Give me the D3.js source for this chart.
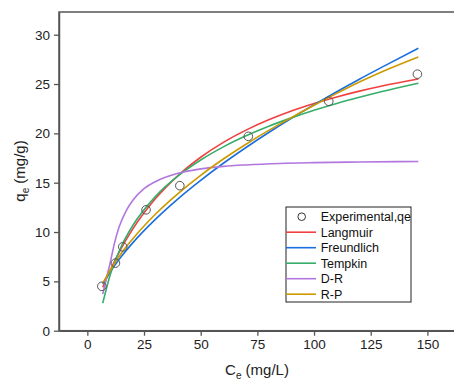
<!DOCTYPE html>
<html>
<head>
<meta charset="utf-8">
<script src="https://cdn.jsdelivr.net/npm/d3@7"></script>
<style>
  body { margin: 0; background: #fff; }
  svg { display: block; font-family: "Liberation Sans", Arial, sans-serif; }
</style>
</head>
<body>
<div id="chart"></div>
<script>
// experimental points
const expCe = [6.4, 12.4, 15.6, 25.9, 40.8, 71.0, 106.5, 145.6];
const expQe = [4.5, 6.85, 8.5, 12.25, 14.7, 19.7, 23.25, 26.0];

// fitted model curves
const fitCe = [6.8, 10, 15, 20, 30, 40, 50, 60, 70, 80, 90, 100, 110, 120, 130, 146];
const langmuir   = [4.39, 6.08, 8.36, 10.29, 13.37, 15.72, 17.58, 19.09, 20.33, 21.37, 22.26, 23.02, 23.69, 24.28, 24.80, 25.51];
const freundlich = [4.72, 5.92, 7.51, 8.90, 11.29, 13.37, 15.24, 16.97, 18.57, 20.09, 21.53, 22.90, 24.22, 25.49, 26.71, 28.62];
const tempkin    = [2.80, 5.60, 8.55, 10.64, 13.59, 15.68, 17.30, 18.63, 19.75, 20.72, 21.57, 22.34, 23.03, 23.66, 24.25, 25.09];
const rp         = [4.80, 6.10, 7.85, 9.30, 11.80, 13.90, 15.75, 17.40, 18.90, 20.30, 21.60, 22.85, 24.05, 25.20, 26.25, 27.75];

const drCe = [6.8, 7.5, 8.5, 10, 12, 14, 17, 20, 25, 30, 40, 50, 60, 70, 85, 100, 120, 146];
const dr   = [3.7, 4.4, 5.4, 6.8, 8.9, 10.5, 12.1, 13.2, 14.4, 15.1, 15.95, 16.4, 16.65, 16.8, 16.95, 17.03, 17.1, 17.15];

const xTicks = [0, 25, 50, 75, 100, 125, 150];
const yTicks = [0, 5, 10, 15, 20, 25, 30];

const series = [
  { name: 'Langmuir', color: '#F14040', x: fitCe, y: langmuir },
  { name: 'Freundlich', color: '#1A6FDF', x: fitCe, y: freundlich },
  { name: 'Tempkin', color: '#37AD6B', x: fitCe, y: tempkin },
  { name: 'D-R', color: '#B177DE', x: drCe, y: dr },
  { name: 'R-P', color: '#CC9900', x: fitCe, y: rp }
];

const width = 454, height = 381;
const m = { left: 59, top: 12, bottom: 330.7, right: 461.4 };

const svg = d3.select('#chart').append('svg')
  .attr('width', width)
  .attr('height', height);

const x = d3.scaleLinear().domain([-12.5, 165]).range([m.left, m.right]);
const y = d3.scaleLinear().domain([0, 32.3]).range([m.bottom, m.top]);

// curves
const line = d3.line()
  .x(d => x(d[0]))
  .y(d => y(d[1]))
  .curve(d3.curveMonotoneX);

svg.append('g').selectAll('path')
  .data(series)
  .enter().append('path')
  .attr('d', s => line(s.x.map((c, i) => [c, s.y[i]])))
  .attr('fill', 'none')
  .attr('stroke', s => s.color)
  .attr('stroke-width', 1.6);

// points
svg.append('g').selectAll('circle')
  .data(expCe.map((c, i) => [c, expQe[i]]))
  .enter().append('circle')
  .attr('cx', d => x(d[0]))
  .attr('cy', d => y(d[1]))
  .attr('r', 4.3)
  .attr('fill', 'none')
  .attr('stroke', '#555')
  .attr('stroke-width', 1);

// frame
svg.append('rect')
  .attr('x', m.left).attr('y', m.top)
  .attr('width', m.right - m.left).attr('height', m.bottom - m.top)
  .attr('fill', 'none')
  .attr('stroke', '#555')
  .attr('stroke-width', 1.5);

// axes
const xAxis = svg.append('g')
  .attr('transform', `translate(0,${m.bottom})`)
  .call(d3.axisBottom(x).tickValues(xTicks).tickSize(5).tickSizeOuter(0).tickPadding(4));
const yAxis = svg.append('g')
  .attr('transform', `translate(${m.left},0)`)
  .call(d3.axisLeft(y).tickValues(yTicks).tickSize(5).tickSizeOuter(0).tickPadding(4));

[xAxis, yAxis].forEach(a => {
  a.select('.domain').attr('stroke', '#555').attr('stroke-width', 1.5);
  a.selectAll('.tick line').attr('stroke', '#555').attr('stroke-width', 1.3);
  a.selectAll('.tick text')
    .attr('fill', '#222')
    .style('font-size', '13.5px')
    .style('font-family', '"Liberation Sans", Arial, sans-serif');
});

// axis titles
const xt = svg.append('text')
  .attr('x', 257).attr('y', 375)
  .attr('text-anchor', 'middle')
  .attr('fill', '#222')
  .style('font-size', '15px');
xt.append('tspan').text('C');
xt.append('tspan').attr('dy', 4).style('font-size', '10px').text('e');
xt.append('tspan').attr('dy', -4).text(' (mg/L)');

const yt = svg.append('text')
  .attr('transform', 'translate(25,171) rotate(-90)')
  .attr('text-anchor', 'middle')
  .attr('fill', '#222')
  .style('font-size', '15px');
yt.append('tspan').text('q');
yt.append('tspan').attr('dy', 4).style('font-size', '10px').text('e');
yt.append('tspan').attr('dy', -4).text(' (mg/g)');

// legend
const lg = svg.append('g').attr('transform', 'translate(286,207)');
lg.append('rect')
  .attr('width', 125).attr('height', 95)
  .attr('fill', '#fff')
  .attr('stroke', '#222')
  .attr('stroke-width', 1);

const rowH = 15.5;
lg.append('circle')
  .attr('cx', 15.7).attr('cy', 9.7)
  .attr('r', 3.8)
  .attr('fill', 'none')
  .attr('stroke', '#333');
lg.append('text')
  .attr('x', 34.7).attr('y', 9.7).attr('dy', '0.35em')
  .style('font-size', '12.5px')
  .attr('fill', '#111')
  .text('Experimental,qe');

const items = lg.selectAll('.item')
  .data(series)
  .enter().append('g')
  .attr('class', 'item')
  .attr('transform', (d, i) => `translate(0,${9.7 + rowH * (i + 1)})`);
items.append('line')
  .attr('x1', 0).attr('x2', 30)
  .attr('stroke', d => d.color)
  .attr('stroke-width', 1.6);
items.append('text')
  .attr('x', 34.7).attr('dy', '0.35em')
  .style('font-size', '12.5px')
  .attr('fill', '#111')
  .text(d => d.name);
</script>
</body>
</html>
